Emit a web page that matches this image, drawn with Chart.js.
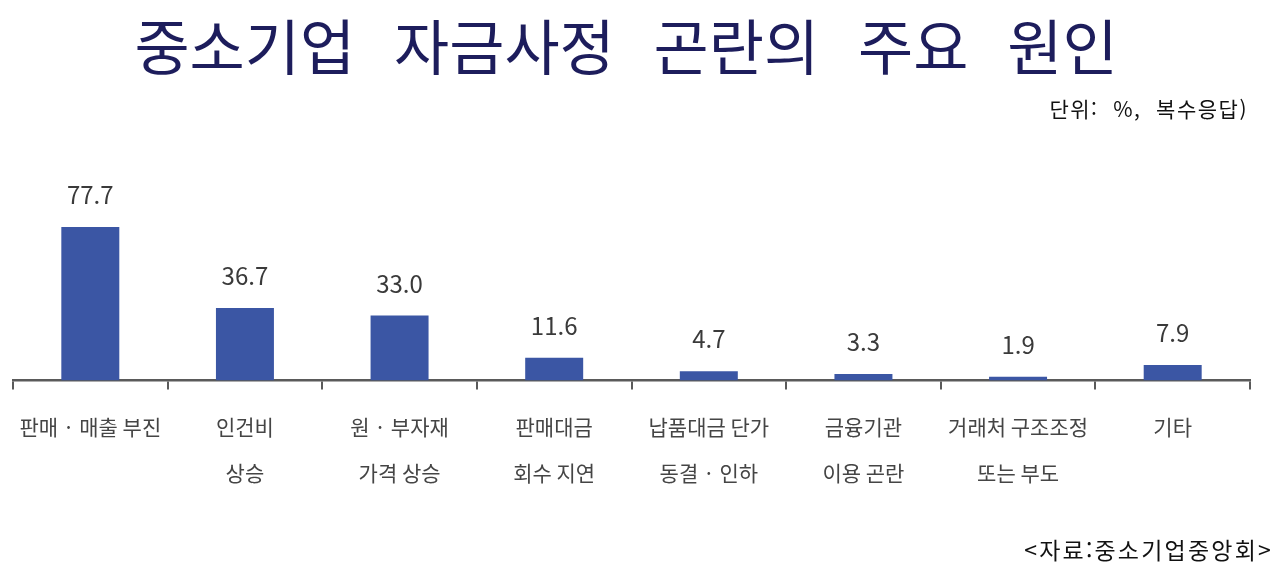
<!DOCTYPE html>
<html lang="ko">
<head>
<meta charset="utf-8">
<title>중소기업 자금사정 곤란의 주요 원인</title>
<script src="https://cdn.jsdelivr.net/npm/chart.js@4"></script>
<style>
  body { margin: 0; background: #fff; font-family: "Noto Sans CJK KR", sans-serif; }
  #wrap { position: relative; width: 1282px; height: 573px; overflow: hidden; }
  #title { position: absolute; left: 0; width: 1252px; top: 2px; text-align: center;
           font-size: 60px; color: #1d1d5c; white-space: pre; word-spacing: 22px; line-height: 84px; }
  #unit { position: absolute; right: 34px; top: 93px; font-size: 21px; color: #111;
          white-space: pre; letter-spacing: 1.5px; }
  #source { position: absolute; right: 9px; top: 532px; font-size: 23px; color: #111;
            letter-spacing: 2.2px; }
  #chart { position: absolute; left: 0; top: 0; }
</style>
</head>
<body>
<div id="wrap">
  <canvas id="chart" width="1282" height="573"></canvas>
  <div id="title">중소기업 자금사정 곤란의 주요 원인</div>
  <div id="unit">단위:  %,  복수응답)</div>
  <div id="source">&lt;자료:중소기업중앙회&gt;</div>
</div>
<script>
// Categories (two-line labels) and values in percent
const categories = [
    ['판매 · 매출 부진'],
    ['인건비', '상승'],
    ['원 · 부자재', '가격 상승'],
    ['판매대금', '회수 지연'],
    ['납품대금 단가', '동결 · 인하'],
    ['금융기관', '이용 곤란'],
    ['거래처 구조조정', '또는 부도'],
    ['기타']
];
const values = [77.7, 36.7, 33.0, 11.6, 4.7, 3.3, 1.9, 7.9];

// Draws the value above each bar
const valueLabels = {
    id: 'valueLabels',
    afterDatasetsDraw(chart) {
        const ctx = chart.ctx;
        const meta = chart.getDatasetMeta(0);
        ctx.save();
        ctx.font = '24px "Noto Sans CJK KR", sans-serif';
        ctx.fillStyle = '#3a3a3a';
        ctx.textAlign = 'center';
        ctx.textBaseline = 'middle';
        meta.data.forEach((bar, i) => {
            ctx.fillText(values[i].toFixed(1), bar.x, bar.y - 32);
        });
        ctx.restore();
    }
};

const ctx = document.getElementById('chart').getContext('2d');
new Chart(ctx, {
    type: 'bar',
    data: {
        labels: categories,
        datasets: [{
            data: values,
            backgroundColor: '#3b56a4',
            barPercentage: 0.375,
            categoryPercentage: 1
        }]
    },
    options: {
        responsive: false,
        animation: false,
        layout: { padding: { left: 13, right: 32, top: 183, bottom: 63 } },
        plugins: {
            legend: { display: false },
            tooltip: { enabled: false }
        },
        scales: {
            x: {
                grid: {
                    display: true,
                    drawOnChartArea: false,
                    drawTicks: true,
                    tickLength: 9,
                    color: '#5a5a5a',
                    lineWidth: 2
                },
                border: { display: true, color: '#5a5a5a', width: 2.5 },
                ticks: {
                    padding: 14,
                    color: '#454545',
                    font: { family: '"Noto Sans CJK KR", sans-serif', size: 21, lineHeight: 2.2 },
                    maxRotation: 0,
                    autoSkip: false
                }
            },
            y: {
                display: false,
                min: 0,
                max: 100
            }
        }
    },
    plugins: [valueLabels]
});
</script>
</body>
</html>
